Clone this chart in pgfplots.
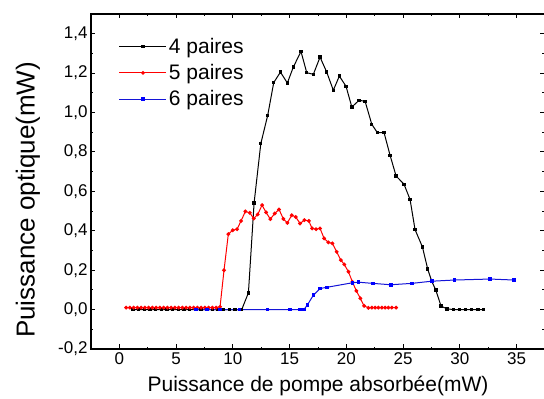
\documentclass[border=0pt]{standalone}
\usepackage{pgfplots}
\pgfplotsset{compat=1.18}
\usepackage{fontspec}
\setmainfont{Liberation Sans}
\definecolor{myblue}{RGB}{20,20,215}
\begin{document}
\begin{tikzpicture}
\useasboundingbox (-91pt,-50pt) rectangle (453pt,349pt);
\begin{axis}[
  scale only axis, width=454pt, height=335pt,
  xmin=-2.5, xmax=37.5, ymin=-0.2, ymax=1.5,
  xtick={0,5,...,35}, ytick={-0.2,0,0.2,0.4,0.6,0.8,1.0,1.2,1.4},
  minor x tick num=1, minor y tick num=1,
  tick align=inside, major tick length=4.5pt, minor tick length=2.5pt,
  axis line style={line width=1.2pt},
  tick style={line width=0.9pt, black},
  /pgf/number format/assume math mode=true,
  yticklabel style={/pgf/number format/.cd, use comma, fixed, fixed zerofill, precision=1},
  tick label style={font=\fontsize{17}{17}\selectfont},
  xlabel={Puissance de pompe absorbée(mW)},
  ylabel={Puissance optique(mW)},
  xlabel style={font=\fontsize{21}{21}\selectfont, at={(axis description cs:0.5,-0.11)}, anchor=center},
  ylabel style={font=\fontsize{26}{26}\selectfont, at={(axis description cs:-0.139,0.445)}, anchor=center},
  legend style={draw=none, fill=none, at={(axis description cs:0.0546,0.940)}, anchor=north west, font=\fontsize{21}{21}\selectfont, row sep=5.5pt},
  legend cell align=left,
  legend image code/.code={\draw[mark repeat=2,mark phase=2] plot coordinates {(0pt,0pt) (23.5pt,0pt) (47pt,0pt)};},
]
\addplot[black, line width=1pt, mark=square*, mark size=1.2pt] coordinates {
(1.2,0) (1.7,0) (2.2,0) (2.7,0) (3.2,0) (3.7,0) (4.2,0) (4.7,0) (5.2,0) (5.7,0)
(6.2,0) (6.7,0) (7.2,0) (7.7,0) (8.2,0) (8.7,0) (9.2,0) (9.7,0) (10.2,0) (10.78,0)
(11.37,0.085) (11.87,0.541) (12.46,0.842) (13.07,0.986) (13.6,1.152) (14.19,1.205)
(14.8,1.15) (15.33,1.231) (16.0,1.31) (16.51,1.202) (17.09,1.194) (17.68,1.281)
(18.27,1.205) (18.85,1.113) (19.38,1.185) (19.97,1.133) (20.48,1.028) (21.12,1.062)
(21.65,1.057) (22.24,0.94) (22.73,0.898) (23.32,0.898) (23.85,0.783) (24.38,0.678)
(25.08,0.636) (25.61,0.559) (26.05,0.406) (26.7,0.318) (27.17,0.205) (27.52,0.144)
(27.88,0.099) (28.34,0.018) (28.85,0.004) (29.43,0) (29.96,0) (30.48,0) (31.05,0)
(31.58,0) (32.07,0)
};
\addlegendentry{4 paires}
\addplot[red, line width=1pt, mark=*, mark size=1.4pt] coordinates {
(0.6,0.01) (0.93,0.01) (1.26,0.01) (1.59,0.01) (1.92,0.01) (2.25,0.01) (2.58,0.01)
(2.91,0.01) (3.24,0.01) (3.57,0.01) (3.9,0.01) (4.23,0.01) (4.56,0.01) (4.89,0.01)
(5.22,0.01) (5.55,0.01) (5.88,0.01) (6.21,0.01) (6.54,0.01) (6.87,0.01) (7.2,0.01)
(7.53,0.01) (7.86,0.01) (8.19,0.01) (8.52,0.01) (8.87,0.014)
(9.22,0.2) (9.6,0.383) (9.99,0.403) (10.37,0.408) (10.72,0.45) (11.1,0.498)
(11.49,0.491) (11.84,0.462) (12.19,0.483) (12.57,0.53) (12.93,0.493) (13.3,0.459)
(13.69,0.488) (14.07,0.508) (14.45,0.46) (14.8,0.44) (15.19,0.479) (15.54,0.47)
(15.92,0.437) (16.3,0.454) (16.69,0.45) (16.98,0.412) (17.33,0.408) (17.68,0.412)
(18.04,0.361) (18.41,0.341) (18.77,0.336) (19.15,0.293) (19.51,0.251) (19.82,0.229)
(20.18,0.192) (20.53,0.141) (20.88,0.095) (21.23,0.057) (21.56,0.019) (21.94,0.009)
(22.24,0.01) (22.53,0.01) (22.82,0.01) (23.12,0.01) (23.41,0.01) (23.7,0.01)
(24.0,0.01) (24.38,0.01)
};
\addlegendentry{5 paires}
\addplot[myblue, line width=1pt, mark=square*, mark size=1.3pt, mark options={blue}] coordinates {
(6.76,0) (7.7,0) (8.87,0) (10.57,0) (13.04,0) (15.04,0) (15.92,0) (16.27,0.001)
(16.56,0.023) (17.09,0.073) (17.68,0.107) (18.27,0.113) (20.53,0.136) (21.06,0.139)
(22.33,0.133) (23.91,0.126) (25.76,0.133) (27.52,0.144) (29.52,0.15) (32.66,0.155)
(34.78,0.15)
};
\addlegendentry{6 paires}
\end{axis}
\end{tikzpicture}
\end{document}
